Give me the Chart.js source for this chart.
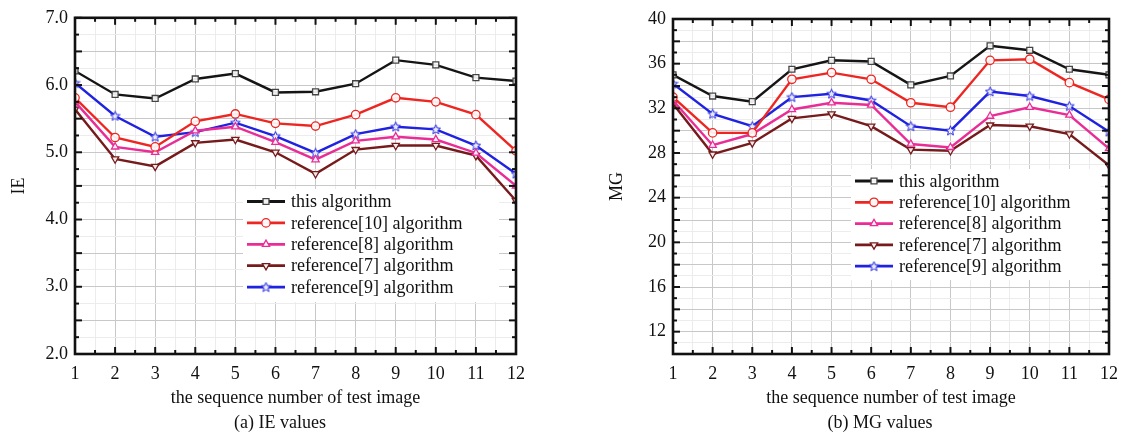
<!DOCTYPE html>
<html>
<head>
<meta charset="utf-8">
<script src="https://cdn.jsdelivr.net/npm/chart.js@4.4.1/dist/chart.umd.min.js"></script>
<style>
  html, body { margin: 0; padding: 0; background: #fff; }
  body { width: 1127px; height: 433px; position: relative; overflow: hidden; font-family: "Liberation Serif", "Times New Roman", serif; }
  canvas { position: absolute; top: 0; }
  #ca { left: 0; }
  #cb { left: 580px; }
  .cap { position: absolute; top: 411px; width: 240px; text-align: center; font-size: 18px; line-height: 22px; color: #111; }
</style>
</head>
<body>
<canvas id="ca" width="560" height="433"></canvas>
<canvas id="cb" width="547" height="433"></canvas>
<div class="cap" style="left:160px">(a) IE values</div>
<div class="cap" style="left:760px">(b) MG values</div>
<script>
// ---------------- data ----------------
const imageNumbers = [1, 2, 3, 4, 5, 6, 7, 8, 9, 10, 11, 12];
const seriesNames = ["this algorithm", "reference[10] algorithm", "reference[8] algorithm", "reference[7] algorithm", "reference[9] algorithm"];

const ieThis  = [6.21, 5.86, 5.80, 6.09, 6.17, 5.89, 5.90, 6.02, 6.37, 6.30, 6.11, 6.06];
const ieRef10 = [5.81, 5.22, 5.08, 5.46, 5.57, 5.43, 5.39, 5.56, 5.81, 5.75, 5.56, 5.02];
const ieRef8  = [5.75, 5.08, 5.00, 5.32, 5.38, 5.15, 4.89, 5.17, 5.23, 5.19, 4.99, 4.50];
const ieRef7  = [5.64, 4.90, 4.79, 5.14, 5.19, 5.00, 4.68, 5.04, 5.10, 5.10, 4.95, 4.28];
const ieRef9  = [6.03, 5.54, 5.23, 5.30, 5.44, 5.24, 4.99, 5.27, 5.38, 5.34, 5.10, 4.68];

const mgThis  = [35.0, 33.1, 32.6, 35.5, 36.3, 36.2, 34.1, 34.9, 37.6, 37.2, 35.5, 35.0];
const mgRef10 = [33.0, 29.8, 29.8, 34.6, 35.2, 34.6, 32.5, 32.1, 36.3, 36.4, 34.3, 32.8];
const mgRef8  = [32.7, 28.7, 29.7, 31.9, 32.5, 32.3, 28.8, 28.5, 31.3, 32.1, 31.4, 28.4];
const mgRef7  = [32.4, 27.9, 28.9, 31.1, 31.5, 30.4, 28.3, 28.2, 30.5, 30.4, 29.7, 26.9];
const mgRef9  = [34.2, 31.5, 30.4, 33.0, 33.3, 32.7, 30.4, 30.0, 33.5, 33.1, 32.2, 29.9];

const ieTickLabels = [2, 3, 4, 5, 6, 7];
const mgTickLabels = [12, 16, 20, 24, 28, 32, 36, 40];

// ---------------- styles ----------------
const FONT = "'Liberation Serif', 'Times New Roman', serif";
const colors = ["#151515", "#ee2622", "#ea2d96", "#761a1c", "#1f22e0"];
const pointBorder = ["#444", "#ee2622", "#ea2d96", "#761a1c", "#1f22e0"];

function makeStar(color) {
  const c = document.createElement('canvas');
  c.width = 11; c.height = 11;
  const g = c.getContext('2d');
  g.beginPath();
  for (let i = 0; i < 10; i++) {
    const r = i % 2 === 0 ? 5 : 2.2;
    const a = -Math.PI / 2 + i * Math.PI / 5;
    const px = 5.5 + r * Math.cos(a), py = 5.8 + r * Math.sin(a);
    if (i === 0) g.moveTo(px, py); else g.lineTo(px, py);
  }
  g.closePath();
  g.fillStyle = 'rgba(255,255,255,0.9)';
  g.fill();
  g.strokeStyle = color; g.lineWidth = 1;
  g.stroke();
  return c;
}
const styles = [
  { pointStyle: 'rect', rotation: 0 },
  { pointStyle: 'circle', rotation: 0 },
  { pointStyle: 'triangle', rotation: 0 },
  { pointStyle: 'triangle', rotation: 180 },
  { pointStyle: makeStar(colors[4]), rotation: 0 }
];

function buildDatasets(seriesList) {
  return seriesList.map((vals, i) => ({
    label: seriesNames[i],
    data: vals.map((v, k) => ({ x: imageNumbers[k], y: v })),
    borderColor: colors[i],
    backgroundColor: colors[i],
    borderWidth: 2.4,
    pointStyle: styles[i].pointStyle,
    pointRotation: styles[i].rotation,
    pointRadius: 4.2,
    pointBorderWidth: 1.3,
    pointBorderColor: pointBorder[i],
    pointBackgroundColor: 'rgba(255,255,255,0.9)',
    tension: 0
  }));
}

// frame with inward ticks
const framePlugin = {
  id: 'frame',
  afterDraw(chart, args, opts) {
    const { ctx, chartArea: { left, right, top, bottom }, scales: { x, y } } = chart;
    ctx.save();
    ctx.strokeStyle = '#111';
    ctx.lineWidth = 2;
    const ln = (a, b, c, d) => { ctx.beginPath(); ctx.moveTo(a, b); ctx.lineTo(c, d); ctx.stroke(); };
    x.ticks.forEach(t => {
      const px = x.getPixelForValue(t.value);
      const len = Number.isInteger(t.value) ? 7 : 4;
      ln(px, bottom, px, bottom - len);
      ln(px, top, px, top + len);
    });
    y.ticks.forEach(t => {
      const py = y.getPixelForValue(t.value);
      const r = t.value / opts.majorY;
      const len = Math.abs(r - Math.round(r)) < 1e-6 ? 7 : 4;
      ln(left, py, left + len, py);
      ln(right, py, right - len, py);
    });
    ctx.lineWidth = 2.6;
    ctx.strokeRect(left, top, right - left, bottom - top);
    ctx.restore();
  }
};

// in-plot legend
const boxLegend = {
  id: 'boxLegend',
  afterDatasetsDraw(chart, args, opts) {
    const { ctx } = chart;
    const cl = chart.canvas.offsetLeft;
    ctx.save();
    ctx.fillStyle = '#fff';
    ctx.fillRect(opts.box[0] - cl, opts.box[1], opts.box[2], opts.box[3]);
    chart.data.datasets.forEach((ds, i) => {
      const yy = opts.y0 + i * opts.dy;
      const x0 = opts.x0 - cl;
      ctx.strokeStyle = ds.borderColor;
      ctx.lineWidth = 2.8;
      ctx.beginPath(); ctx.moveTo(x0, yy); ctx.lineTo(x0 + 38, yy); ctx.stroke();
      ctx.fillStyle = 'rgba(255,255,255,0.95)';
      ctx.strokeStyle = ds.pointBorderColor;
      ctx.lineWidth = 1.3;
      Chart.helpers.drawPoint(ctx, { pointStyle: ds.pointStyle, rotation: ds.pointRotation, radius: 4.2, borderWidth: 1.3 }, x0 + 19, yy);
      ctx.fillStyle = '#111';
      ctx.font = "18px " + FONT;
      ctx.textBaseline = 'middle';
      ctx.textAlign = 'left';
      ctx.fillText(ds.label, x0 + 44, yy + 1);
    });
    ctx.restore();
  }
};

function makeChart(id, cfg) {
  const isMajorGrid = v => { const r = v / cfg.majorGrid; return Math.abs(r - Math.round(r)) < 1e-6; };
  return new Chart(document.getElementById(id), {
    type: 'line',
    data: { datasets: buildDatasets(cfg.series) },
    plugins: [boxLegend, framePlugin],
    options: {
      responsive: false,
      animation: false,
      devicePixelRatio: 1,
      layout: { padding: { left: 0, right: cfg.padRight, top: cfg.padTop, bottom: 24 } },
      plugins: {
        legend: { display: false },
        tooltip: { enabled: false },
        frame: { majorY: cfg.majorGrid },
        boxLegend: cfg.legend
      },
      scales: {
        x: {
          type: 'linear', min: 1, max: 12,
          afterFit: s => { s.height = 55; },
          ticks: {
            stepSize: 0.5, autoSkip: false, maxRotation: 0, padding: 9,
            color: '#111', font: { family: FONT, size: 18 },
            callback: v => Number.isInteger(v) && imageNumbers.includes(v) ? String(v) : ''
          },
          grid: {
            drawTicks: false, lineWidth: 1,
            color: c => Number.isInteger(c.tick.value) ? '#c8c8c8' : '#ececec'
          },
          border: { display: false },
          title: {
            display: true, text: 'the sequence number of test image',
            color: '#111', font: { family: FONT, size: 18 }, padding: { top: 0, bottom: 0 }
          }
        },
        y: {
          type: 'linear', min: cfg.yMin, max: cfg.yMax,
          afterFit: s => { s.width = cfg.yWidth; },
          ticks: {
            stepSize: cfg.yStep, autoSkip: false, padding: 7,
            color: '#111', font: { family: FONT, size: 18 },
            callback: v => cfg.tickLabels.some(t => Math.abs(t - v) < 1e-6) ? cfg.fmt(v) : ''
          },
          grid: {
            drawTicks: false, lineWidth: 1,
            color: c => isMajorGrid(c.tick.value) ? '#c8c8c8' : '#ececec'
          },
          border: { display: false },
          title: {
            display: true, text: cfg.yTitle,
            color: '#111', font: { family: FONT, size: 18 }, padding: { top: cfg.yTitlePad, bottom: 0 }
          }
        }
      }
    }
  });
}

makeChart('ca', {
  series: [ieThis, ieRef10, ieRef8, ieRef7, ieRef9],
  yMin: 2, yMax: 7, yStep: 0.25, majorGrid: 0.5,
  tickLabels: ieTickLabels, fmt: v => v.toFixed(1),
  yWidth: 75, yTitle: 'IE', yTitlePad: 8,
  padRight: 44, padTop: 17,
  legend: { box: [243, 189, 256, 113], x0: 247, y0: 201.5, dy: 21.4 }
});

makeChart('cb', {
  series: [mgThis, mgRef10, mgRef8, mgRef7, mgRef9],
  yMin: 10, yMax: 40, yStep: 1, majorGrid: 2,
  tickLabels: mgTickLabels, fmt: v => String(v),
  yWidth: 93, yTitle: 'MG', yTitlePad: 26,
  padRight: 17, padTop: 19,
  legend: { box: [851, 169, 250, 111], x0: 855, y0: 181, dy: 21.3 }
});
</script>
</body>
</html>
